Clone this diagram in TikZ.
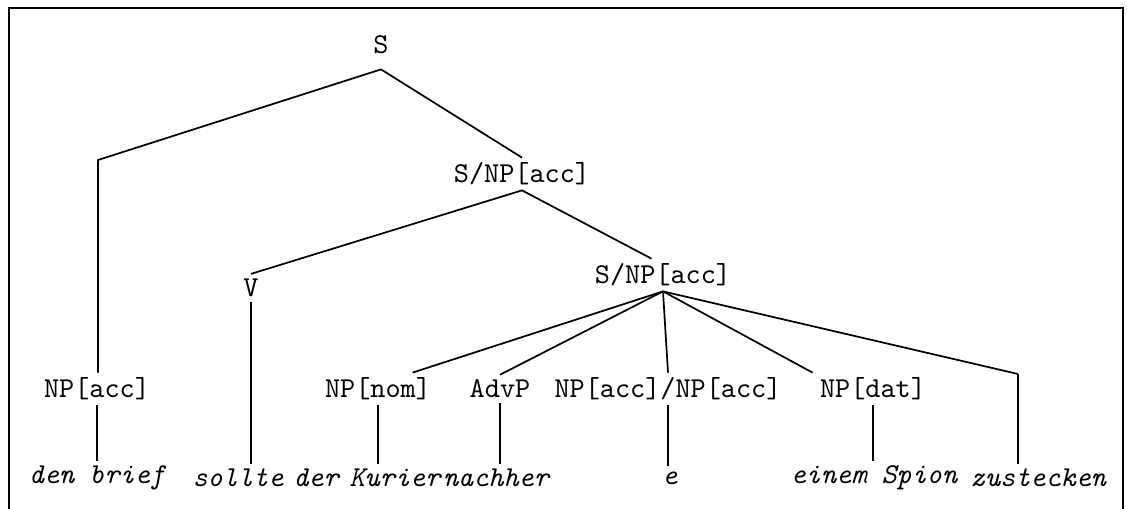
\documentclass[tikz,border=0pt]{standalone}
\usepackage{tikz}

\begin{document}
\begin{tikzpicture}[x=0.347pt,y=-0.347pt,line width=0.6pt,
  cat/.style={font=\ttfamily,inner sep=1.5pt},
  word/.style={font=\ttfamily\itshape,inner sep=1.5pt}]
\useasboundingbox (0,0) rectangle (1127,509);
\draw[line width=0.8pt] (9,509) -- (9,8) -- (1123,8) -- (1123,509);
% categories
\node[cat] (S) at (381,45) {S};
\node[cat] (SNPa) at (522,174) {S/NP[acc]};
\node[cat] (V) at (251,288) {V};
\node[cat] (SNPb) at (663,275) {S/NP[acc]};
\node[cat] (NPacc) at (97,389) {NP[acc]};
\node[cat] (NPnom) at (378,389) {NP[nom]};
\node[cat] (AdvP) at (500,389) {AdvP};
\node[cat] (NPgap) at (668,389) {NP[acc]/NP[acc]};
\node[cat] (NPdat) at (873,389) {NP[dat]};
% words
\node[word] (W1) at (97,478) {den brief};
\node[word] (W2) at (238,478) {sollte};
\node[word] (W3a) at (316,478) {der};
\node[word] (W3) at (395,478) {Kurier};
\node[word] (W4) at (496,478) {nachher};
\node[word] (W5) at (670,478) {e};
\node[word] (W6) at (874,478) {einem Spion};
\node[word] (W7) at (1038,478) {zustecken};
\coordinate (bend) at (98,160);
\coordinate (free) at (1018,374);
% tree
\draw ([yshift=-3.5pt]S.south) -- (bend) -- (bend |- NPacc.north);
\path ([yshift=-3.5pt]S.south) edge (SNPa.north);
\path (SNPa.south) edge (V.north);
\path (SNPa.south) edge ([xshift=-4pt]SNPb.north);
\path (SNPb.south) edge ([xshift=12pt]NPnom.north);
\path (SNPb.south) edge (AdvP.north);
\path (SNPb.south) edge (NPgap.north);
\path (SNPb.south) edge ([xshift=-21pt]NPdat.north);
\path (SNPb.south) edge (free);
% leaves
\path (NPacc.south) edge (NPacc.south |- W1.north);
\path (V.south) edge (V.south |- W2.north);
\path (NPnom.south) edge (NPnom.south |- W3.north);
\path (AdvP.south) edge (AdvP.south |- W4.north);
\path (NPgap.south) edge (NPgap.south |- W5.north);
\path (NPdat.south) edge (NPdat.south |- W6.north);
\path (free) edge (free |- W7.north);
\end{tikzpicture}
\end{document}
